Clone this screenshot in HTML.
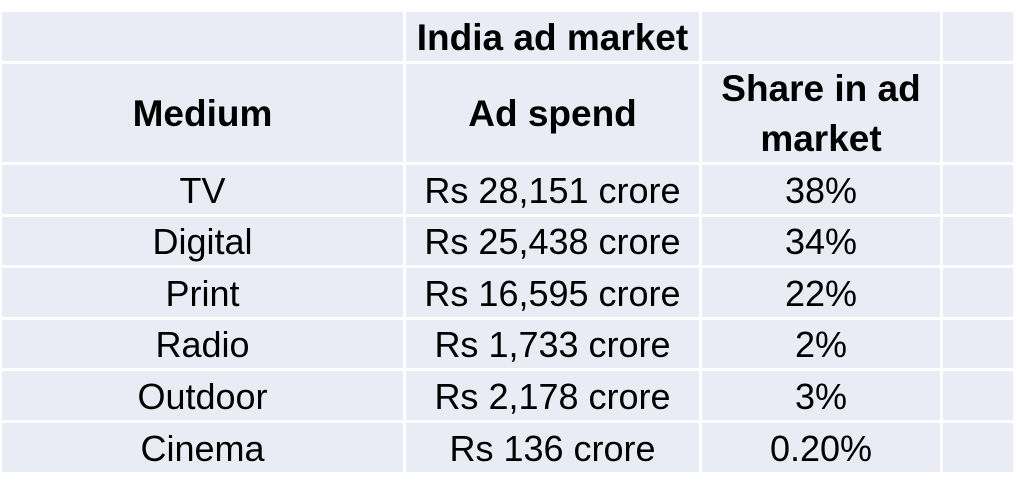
<!DOCTYPE html>
<html><head><meta charset="utf-8"><style>
body{margin:0;width:1018px;height:499px;background:#fff;position:relative;overflow:hidden;font-family:"Liberation Sans",sans-serif;color:#000}
.c{position:absolute;background:#e9ecf5;display:flex;align-items:center;justify-content:center;text-align:center;font-size:36px;line-height:50px;white-space:nowrap;padding-top:2px;box-sizing:border-box}
.b{font-weight:bold;font-size:37px}
</style></head><body>
<div id="t"></div>
<script>
const cols=[[2,403],[406,699],[702,940],[943,1013]];
const rows=[[12,61],[64,162],[165,214],[217,265],[268,317],[320,368],[371,420],[423,472]];
const header1=["","India ad market","",""];
const header2=["Medium","Ad spend","Share in ad<br>market",""];
const media=["TV","Digital","Print","Radio","Outdoor","Cinema"];
const spend=["Rs 28,151 crore","Rs 25,438 crore","Rs 16,595 crore","Rs 1,733 crore","Rs 2,178 crore","Rs 136 crore"];
const share=["38%","34%","22%","2%","3%","0.20%"];
const t=document.getElementById('t');
function cell(r,c,html,bold,name){
  const d=document.createElement('div');
  d.className='c'+(bold?' b':'');
  d.style.left=cols[c][0]+'px';d.style.width=(cols[c][1]-cols[c][0])+'px';
  d.style.top=rows[r][0]+'px';d.style.height=(rows[r][1]-rows[r][0])+'px';
  d.innerHTML=html;
  
  
  t.appendChild(d);
}
header1.forEach((h,i)=>cell(0,i,h,true,i===1?'table-title':'header-blank-cell'));
header2.forEach((h,i)=>cell(1,i,h,true,i===3?'header-blank-cell':'column-header'));
media.forEach((m,i)=>{
  cell(i+2,0,m,false,'medium-cell');
  cell(i+2,1,spend[i],false,'ad-spend-cell');
  cell(i+2,2,share[i],false,'share-cell');
  cell(i+2,3,'',false,'blank-cell');
});
</script>
</body></html>
